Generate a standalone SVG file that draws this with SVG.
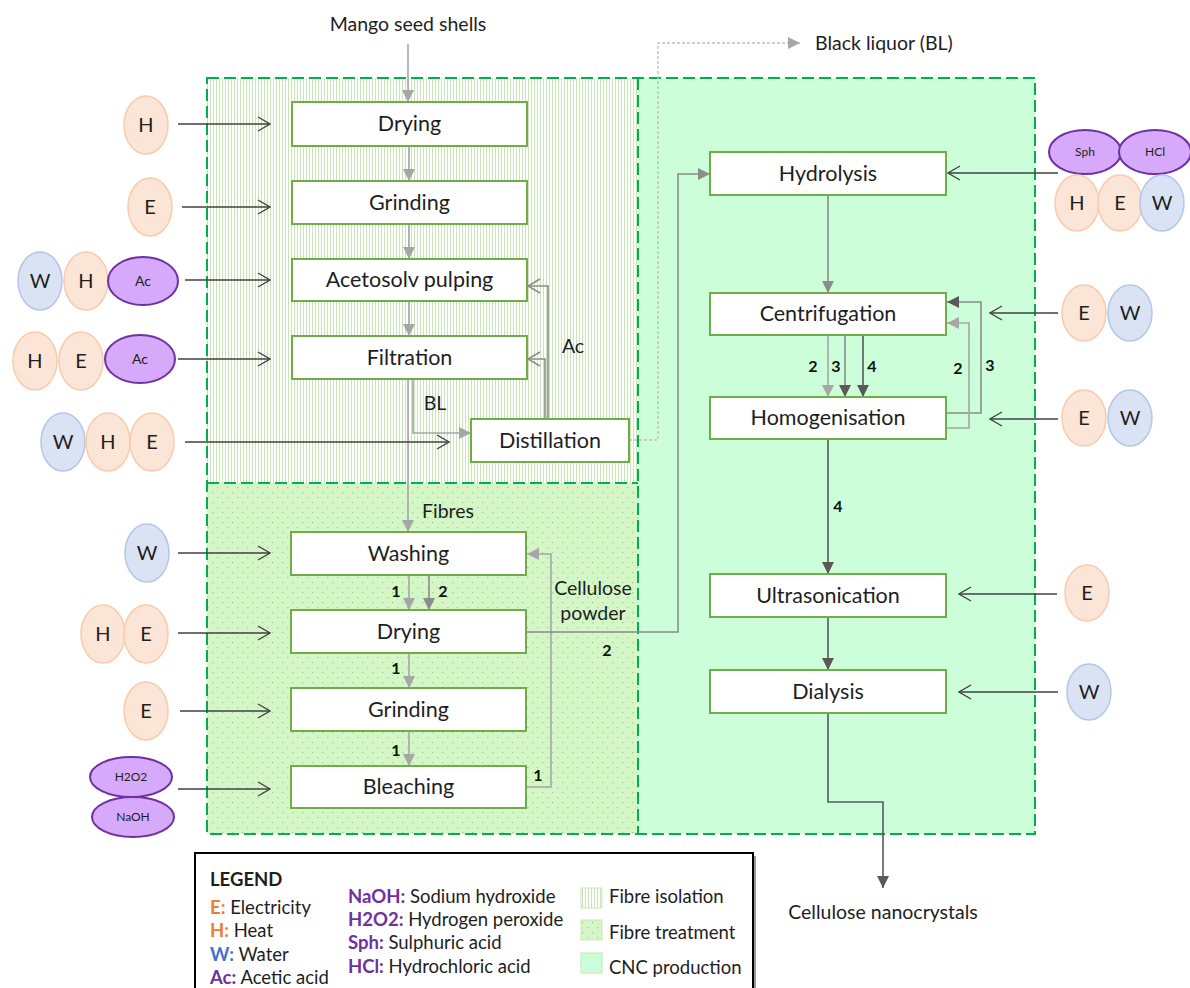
<svg xmlns="http://www.w3.org/2000/svg" width="1190" height="988" viewBox="0 0 1190 988">
  <style>
    text { font-family: Lato, "Open Sans", "Liberation Sans", sans-serif; fill: #1e1e1e; }
    .box rect { fill: #ffffff; stroke: #70ad47; stroke-width: 2; }
    .box text { font-size: 21.5px; text-anchor: middle; }
    .lbl { font-size: 19.5px; }
    .num { font-size: 16px; font-weight: bold; fill: #111; }
    .peach { fill: #fbe5d6; stroke: #f8cbad; stroke-width: 1.5; }
    .blue { fill: #dae3f3; stroke: #b4c7e7; stroke-width: 1.5; }
    .purple { fill: #d7a9fb; stroke: #7030a0; stroke-width: 2; }
    .res text { font-size: 20px; text-anchor: middle; }
    .res text.sm { font-size: 14px; }
    .res text.xs { font-size: 12px; }
    .zone { fill: none; stroke: #00b050; stroke-width: 2; stroke-dasharray: 12 5; }
    .flow { fill: none; stroke: #a6a6a6; stroke-width: 1.6; }
    .mid { fill: none; stroke: #8c8c8c; stroke-width: 1.6; }
    .dark { fill: none; stroke: #595959; stroke-width: 1.6; }
    .feed { fill: none; stroke: #404040; stroke-width: 1.3; }
    .leg { font-size: 18.5px; }
    .legk { font-weight: bold; }
  </style>
  <defs>
    <pattern id="vlines" width="3" height="10" patternUnits="userSpaceOnUse">
      <rect width="3" height="10" fill="#ffffff"/>
      <line x1="0.5" y1="0" x2="0.5" y2="10" stroke="#c9e5b5" stroke-width="1"/>
    </pattern>
    <pattern id="dots" width="10" height="10" patternUnits="userSpaceOnUse">
      <rect width="10" height="10" fill="#d5f7c8"/>
      <rect x="2" y="2" width="1.4" height="1.2" fill="#9fd38a"/>
      <rect x="7" y="7" width="1.4" height="1.2" fill="#9fd38a"/>
    </pattern>
    <marker id="tl" markerWidth="12" markerHeight="12" refX="10" refY="5" orient="auto" markerUnits="userSpaceOnUse" viewBox="0 0 10 10">
      <path d="M0,0 L10,5 L0,10 z" fill="#a6a6a6"/>
    </marker>
    <marker id="tm" markerWidth="12" markerHeight="12" refX="10" refY="5" orient="auto" markerUnits="userSpaceOnUse" viewBox="0 0 10 10">
      <path d="M0,0 L10,5 L0,10 z" fill="#8c8c8c"/>
    </marker>
    <marker id="td" markerWidth="12" markerHeight="12" refX="10" refY="5" orient="auto" markerUnits="userSpaceOnUse" viewBox="0 0 10 10">
      <path d="M0,0 L10,5 L0,10 z" fill="#595959"/>
    </marker>
    <marker id="ch" markerWidth="14" markerHeight="16" refX="13" refY="8" orient="auto" markerUnits="userSpaceOnUse" viewBox="0 0 14 16">
      <path d="M1,1 L13,8 L1,15" fill="none" stroke="#404040" stroke-width="1.3"/>
    </marker>
    <marker id="chg" markerWidth="14" markerHeight="16" refX="13" refY="8" orient="auto" markerUnits="userSpaceOnUse" viewBox="0 0 14 16">
      <path d="M1,1 L13,8 L1,15" fill="none" stroke="#8c8c8c" stroke-width="1.6"/>
    </marker>
  </defs>

  <!-- process zones -->
  <g id="zones">
    <rect x="207" y="78" width="431" height="405" fill="url(#vlines)"/>
    <rect x="207" y="483" width="431" height="351" fill="url(#dots)"/>
    <rect x="638" y="78" width="397" height="756" fill="#ccffd9"/>
    <rect class="zone" x="207" y="78" width="828" height="756"/>
    <line class="zone" x1="638" y1="78" x2="638" y2="834"/>
    <line class="zone" x1="207" y1="483" x2="638" y2="483"/>
  </g>

  <!-- connectors -->
  <g id="connectors">
    <path class="flow" d="M408 44 V102" marker-end="url(#tl)"/>
    <path class="flow" d="M409 146 V181" marker-end="url(#tl)"/>
    <path class="flow" d="M409 224 V259" marker-end="url(#tl)"/>
    <path class="flow" d="M409 301 V336" marker-end="url(#tl)"/>
    <path class="flow" d="M408 379 V532" marker-end="url(#tl)"/>
    <path class="flow" d="M413 379 V433 H471" marker-end="url(#tl)"/>
    <path class="mid" d="M548 419 V286 H528" marker-end="url(#chg)"/>
    <path class="mid" d="M545 419 V359 H528" marker-end="url(#chg)"/>
    <path d="M629 440 H658 V43 H800" fill="none" stroke="#bfbfbf" stroke-width="1.4" stroke-dasharray="3 2" marker-end="url(#tl)"/>

    <path class="flow" d="M409 575 V610" marker-end="url(#tl)"/>
    <path class="mid" d="M429 575 V610" marker-end="url(#tm)"/>
    <path class="flow" d="M409 653 V688" marker-end="url(#tl)"/>
    <path class="flow" d="M409 731 V766" marker-end="url(#tl)"/>
    <path class="flow" d="M526 787 H551 V554 H527" marker-end="url(#tl)"/>
    <path class="mid" d="M526 632 H678 V174 H710" marker-end="url(#tm)"/>

    <path class="mid" d="M828 195 V293" marker-end="url(#tm)"/>
    <path class="flow" d="M828 335 V397" marker-end="url(#tl)"/>
    <path class="mid" d="M845 335 V397" marker-end="url(#td)"/>
    <path class="dark" d="M863 335 V397" marker-end="url(#td)"/>
    <path class="mid" d="M946 413 H981 V302 H947" marker-end="url(#td)"/>
    <path class="flow" d="M946 428 H969 V323 H947" marker-end="url(#tl)"/>
    <path class="dark" d="M828 439 V574" marker-end="url(#td)"/>
    <path class="dark" d="M828 617 V670" marker-end="url(#td)"/>
    <path class="dark" d="M828 713 V802 H883 V888" marker-end="url(#td)"/>

    <path class="feed" d="M178 124 H270" marker-end="url(#ch)"/>
    <path class="feed" d="M182 207 H270" marker-end="url(#ch)"/>
    <path class="feed" d="M185 280 H270" marker-end="url(#ch)"/>
    <path class="feed" d="M178 359 H270" marker-end="url(#ch)"/>
    <path class="feed" d="M185 442 H449" marker-end="url(#ch)"/>
    <path class="feed" d="M178 553 H270" marker-end="url(#ch)"/>
    <path class="feed" d="M178 633 H270" marker-end="url(#ch)"/>
    <path class="feed" d="M180 711 H270" marker-end="url(#ch)"/>
    <path class="feed" d="M178 789 H270" marker-end="url(#ch)"/>
    <path class="feed" d="M1058 173 H948" marker-end="url(#ch)"/>
    <path class="feed" d="M1058 313 H990" marker-end="url(#ch)"/>
    <path class="feed" d="M1058 419 H990" marker-end="url(#ch)"/>
    <path class="feed" d="M1057 594 H959" marker-end="url(#ch)"/>
    <path class="feed" d="M1058 692 H959" marker-end="url(#ch)"/>
  </g>

  <!-- connector labels -->
  <g id="labels">
    <text class="lbl" x="408" y="31" text-anchor="middle">Mango seed shells</text>
    <text class="lbl" x="815" y="50">Black liquor (BL)</text>
    <text class="lbl" x="435" y="410" text-anchor="middle">BL</text>
    <text class="lbl" x="573" y="353" text-anchor="middle">Ac</text>
    <text class="lbl" x="448" y="518" text-anchor="middle">Fibres</text>
    <text class="lbl" x="593" y="595" text-anchor="middle">Cellulose</text>
    <text class="lbl" x="593" y="620" text-anchor="middle">powder</text>
    <text class="lbl" x="883" y="919" text-anchor="middle">Cellulose nanocrystals</text>
    <g text-anchor="middle">
      <text class="num" x="396" y="597">1</text>
      <text class="num" x="443" y="597">2</text>
      <text class="num" x="396" y="674">1</text>
      <text class="num" x="396" y="756">1</text>
      <text class="num" x="538" y="781">1</text>
      <text class="num" x="607" y="656">2</text>
      <text class="num" x="813" y="372">2</text>
      <text class="num" x="836" y="372">3</text>
      <text class="num" x="872" y="372">4</text>
      <text class="num" x="958" y="374">2</text>
      <text class="num" x="990" y="371">3</text>
      <text class="num" x="838" y="512">4</text>
    </g>
  </g>

  <!-- process steps -->
  <g id="drying1" class="box"><rect x="292" y="102" width="235" height="44"/><text x="409.5" y="131">Drying</text></g>
  <g id="grinding1" class="box"><rect x="292" y="181" width="235" height="43"/><text x="409.5" y="210">Grinding</text></g>
  <g id="acetosolv" class="box"><rect x="292" y="259" width="235" height="42"/><text x="409.5" y="287">Acetosolv pulping</text></g>
  <g id="filtration" class="box"><rect x="292" y="336" width="235" height="43"/><text x="409.5" y="365">Filtration</text></g>
  <g id="distillation" class="box"><rect x="471" y="419" width="158" height="43"/><text x="550" y="448">Distillation</text></g>
  <g id="washing" class="box"><rect x="291" y="532" width="235" height="43"/><text x="408.5" y="561">Washing</text></g>
  <g id="drying2" class="box"><rect x="291" y="610" width="235" height="43"/><text x="408.5" y="639">Drying</text></g>
  <g id="grinding2" class="box"><rect x="291" y="688" width="235" height="43"/><text x="408.5" y="717">Grinding</text></g>
  <g id="bleaching" class="box"><rect x="291" y="766" width="235" height="42"/><text x="408.5" y="794">Bleaching</text></g>
  <g id="hydrolysis" class="box"><rect x="710" y="152" width="236" height="43"/><text x="828" y="181">Hydrolysis</text></g>
  <g id="centrifugation" class="box"><rect x="710" y="293" width="236" height="42"/><text x="828" y="321">Centrifugation</text></g>
  <g id="homogenisation" class="box"><rect x="710" y="397" width="236" height="42"/><text x="828" y="425">Homogenisation</text></g>
  <g id="ultrasonication" class="box"><rect x="710" y="574" width="236" height="43"/><text x="828" y="603">Ultrasonication</text></g>
  <g id="dialysis" class="box"><rect x="710" y="670" width="236" height="43"/><text x="828" y="699">Dialysis</text></g>

  <!-- resource inputs -->
  <g id="in-drying1" class="res">
    <ellipse class="peach" cx="146" cy="125" rx="22" ry="29"/><text x="146" y="132">H</text>
  </g>
  <g id="in-grinding1" class="res">
    <ellipse class="peach" cx="150" cy="207" rx="22" ry="29"/><text x="150" y="214">E</text>
  </g>
  <g id="in-acetosolv" class="res">
    <ellipse class="blue" cx="40" cy="281" rx="22" ry="29"/><text x="40" y="288">W</text>
    <ellipse class="peach" cx="86" cy="281" rx="22" ry="29"/><text x="86" y="288">H</text>
    <ellipse class="purple" cx="143" cy="281" rx="35" ry="24"/><text class="sm" x="143" y="286">Ac</text>
  </g>
  <g id="in-filtration" class="res">
    <ellipse class="peach" cx="35" cy="361" rx="22" ry="29"/><text x="35" y="368">H</text>
    <ellipse class="peach" cx="81" cy="361" rx="22" ry="29"/><text x="81" y="368">E</text>
    <ellipse class="purple" cx="140" cy="359" rx="35" ry="24"/><text class="sm" x="140" y="364">Ac</text>
  </g>
  <g id="in-distillation" class="res">
    <ellipse class="blue" cx="63" cy="442" rx="22" ry="29"/><text x="63" y="449">W</text>
    <ellipse class="peach" cx="108" cy="442" rx="22" ry="29"/><text x="108" y="449">H</text>
    <ellipse class="peach" cx="152" cy="442" rx="22" ry="29"/><text x="152" y="449">E</text>
  </g>
  <g id="in-washing" class="res">
    <ellipse class="blue" cx="147" cy="553" rx="22" ry="29"/><text x="147" y="560">W</text>
  </g>
  <g id="in-drying2" class="res">
    <ellipse class="peach" cx="103" cy="634" rx="22" ry="29"/><text x="103" y="641">H</text>
    <ellipse class="peach" cx="146" cy="634" rx="22" ry="29"/><text x="146" y="641">E</text>
  </g>
  <g id="in-grinding2" class="res">
    <ellipse class="peach" cx="146" cy="711" rx="22" ry="29"/><text x="146" y="718">E</text>
  </g>
  <g id="in-bleaching" class="res">
    <ellipse class="purple" cx="131" cy="777" rx="41" ry="20"/><text class="xs" x="131" y="781">H2O2</text>
    <ellipse class="purple" cx="133" cy="817" rx="41" ry="20"/><text class="xs" x="133" y="821">NaOH</text>
  </g>
  <g id="in-hydrolysis" class="res">
    <ellipse class="purple" cx="1085" cy="152" rx="36" ry="22"/><text class="xs" x="1085" y="156">Sph</text>
    <ellipse class="purple" cx="1155" cy="152" rx="36" ry="22"/><text class="xs" x="1155" y="156">HCl</text>
    <ellipse class="peach" cx="1077" cy="203" rx="22" ry="28"/><text x="1077" y="210">H</text>
    <ellipse class="peach" cx="1120" cy="203" rx="22" ry="28"/><text x="1120" y="210">E</text>
    <ellipse class="blue" cx="1162" cy="203" rx="22" ry="28"/><text x="1162" y="210">W</text>
  </g>
  <g id="in-centrifugation" class="res">
    <ellipse class="peach" cx="1084" cy="313" rx="22" ry="28"/><text x="1084" y="320">E</text>
    <ellipse class="blue" cx="1130" cy="313" rx="22" ry="28"/><text x="1130" y="320">W</text>
  </g>
  <g id="in-homogenisation" class="res">
    <ellipse class="peach" cx="1084" cy="418" rx="22" ry="28"/><text x="1084" y="425">E</text>
    <ellipse class="blue" cx="1130" cy="418" rx="22" ry="28"/><text x="1130" y="425">W</text>
  </g>
  <g id="in-ultrasonication" class="res">
    <ellipse class="peach" cx="1087" cy="593" rx="22" ry="28"/><text x="1087" y="600">E</text>
  </g>
  <g id="in-dialysis" class="res">
    <ellipse class="blue" cx="1089" cy="692" rx="22" ry="28"/><text x="1089" y="699">W</text>
  </g>

  <!-- legend -->
  <g id="legend">
    <rect x="198" y="856" width="558" height="140" fill="#9a9a9a"/>
    <rect x="195" y="853" width="558" height="140" fill="#ffffff" stroke="#000000" stroke-width="2"/>
    <text class="leg legk" x="210" y="886">LEGEND</text>
    <text class="leg" x="210" y="914"><tspan class="legk" fill="#ed7d31">E:</tspan> Electricity</text>
    <text class="leg" x="210" y="937"><tspan class="legk" fill="#ed7d31">H:</tspan> Heat</text>
    <text class="leg" x="210" y="961"><tspan class="legk" fill="#4472c4">W:</tspan> Water</text>
    <text class="leg" x="210" y="984"><tspan class="legk" fill="#7030a0">Ac:</tspan> Acetic acid</text>
    <text class="leg" x="348" y="903"><tspan class="legk" fill="#7030a0">NaOH:</tspan> Sodium hydroxide</text>
    <text class="leg" x="348" y="926"><tspan class="legk" fill="#7030a0">H2O2:</tspan> Hydrogen peroxide</text>
    <text class="leg" x="348" y="949"><tspan class="legk" fill="#7030a0">Sph:</tspan> Sulphuric acid</text>
    <text class="leg" x="348" y="973"><tspan class="legk" fill="#7030a0">HCl:</tspan> Hydrochloric acid</text>
    <rect x="581" y="888" width="21" height="20" fill="url(#vlines)" stroke="#c9e5b5" stroke-width="1"/>
    <rect x="581" y="920" width="21" height="20" fill="url(#dots)" stroke="#c9e5b5" stroke-width="1"/>
    <rect x="581" y="953" width="21" height="20" fill="#ccffd9" stroke="#c9e5b5" stroke-width="1"/>
    <text class="leg" x="609" y="903">Fibre isolation</text>
    <text class="leg" x="609" y="939">Fibre treatment</text>
    <text class="leg" x="609" y="974">CNC production</text>
  </g>
</svg>
